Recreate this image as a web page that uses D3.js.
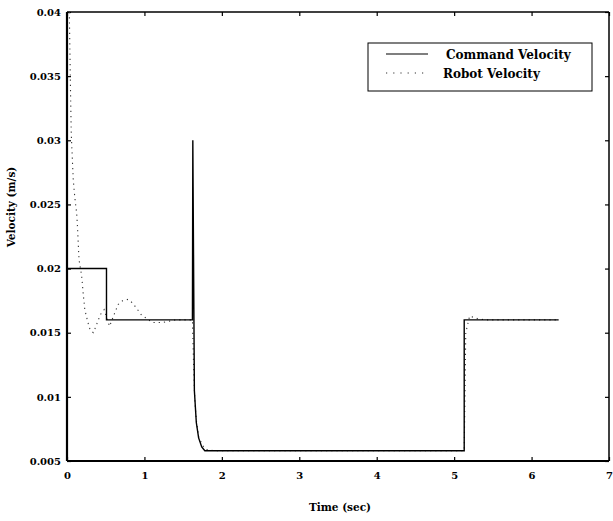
<!DOCTYPE html>
<html><head><meta charset="utf-8">
<script src="https://cdn.jsdelivr.net/npm/d3@7"></script>
<style>body{margin:0;background:#fff}svg{display:block}text{font-family:"DejaVu Serif","Liberation Serif",serif;font-weight:bold;fill:#000}</style>
</head><body><svg id="c" width="613" height="521"></svg>
<script>
const xTicks = [0,1,2,3,4,5,6,7];
const yTicks = [0.005,0.01,0.015,0.02,0.025,0.03,0.035,0.04];
const yTickLabels = ["0.005","0.01","0.015","0.02","0.025","0.03","0.035","0.04"];
const seriesNames = ["Command Velocity","Robot Velocity"];
const commandT = [0,0.51,0.51,1.62,1.625,1.645,1.67,1.70,1.74,1.78,5.13,5.13,6.35];
const commandV = [0.02,0.02,0.016,0.016,0.030,0.0105,0.0080,0.0068,0.0061,0.0058,0.0058,0.016,0.016];
const robotT = [0.03,0.045,0.055,0.08,0.10,0.125,0.135,0.155,0.19,0.21,0.23,0.27,0.30,0.34,0.38,0.43,0.48,0.51,0.55,0.62,0.66,0.72,0.79,0.85,0.96,1.10,1.24,1.40,1.62,1.635,1.65,1.67,1.70,1.75,1.80,1.9,5.13,5.15,5.2,5.3,5.4,6.35];
const robotV = [0.040,0.034,0.0305,0.027,0.0256,0.0243,0.0233,0.0207,0.0194,0.018,0.0168,0.0158,0.0152,0.015,0.0156,0.0164,0.0168,0.0162,0.0155,0.0166,0.0172,0.0175,0.0176,0.0173,0.0164,0.0158,0.0158,0.016,0.016,0.0125,0.0098,0.0082,0.0069,0.0062,0.0059,0.0058,0.0058,0.0150,0.0163,0.0161,0.016,0.016];

const W=613,H=521, m={l:67,r:4,t:12,b:60};
const svg=d3.select("#c");
const x=d3.scaleLinear().domain([0,7]).range([m.l,W-m.r]);
const y=d3.scaleLinear().domain([0.005,0.04]).range([H-m.b,m.t]);

svg.append("g").attr("transform",`translate(0,${H-m.b})`)
 .call(d3.axisBottom(x).tickValues(xTicks).tickSizeInner(-4).tickSizeOuter(0).tickPadding(11).tickFormat(d3.format("d")));
svg.append("g").attr("transform",`translate(${m.l},0)`)
 .call(d3.axisLeft(y).tickValues(yTicks).tickSizeInner(-4).tickSizeOuter(0).tickPadding(6).tickFormat((d,i)=>yTickLabels[i]));
svg.append("g").attr("transform",`translate(${W-m.r},0)`)
 .call(d3.axisRight(y).tickValues(yTicks).tickSizeInner(-4).tickSizeOuter(0).tickFormat(""));
svg.append("g").attr("transform",`translate(0,${m.t})`)
 .call(d3.axisTop(x).tickValues(xTicks).tickSizeInner(-4).tickSizeOuter(0).tickFormat(""));
svg.selectAll(".domain").remove();
svg.selectAll(".tick line").attr("stroke","#000").attr("stroke-width",1.2);
svg.selectAll(".tick text").style("font-size","10px").style("font-family",'"DejaVu Serif",serif').style("font-weight","bold");

svg.append("line").attr("x1",m.l).attr("x2",m.l).attr("y1",m.t).attr("y2",H-m.b).attr("stroke","#000").attr("stroke-width",2.2);
svg.append("line").attr("x1",m.l).attr("x2",W-m.r).attr("y1",H-m.b).attr("y2",H-m.b).attr("stroke","#000").attr("stroke-width",2.2);
svg.append("line").attr("x1",m.l).attr("x2",W-m.r).attr("y1",m.t).attr("y2",m.t).attr("stroke","#000").attr("stroke-width",1.5);
svg.append("line").attr("x1",W-m.r).attr("x2",W-m.r).attr("y1",m.t).attr("y2",H-m.b).attr("stroke","#000").attr("stroke-width",1.5);

const line=d3.line().x(d=>x(d[0])).y(d=>y(d[1]));
const cmd=commandT.map((t,i)=>[t,commandV[i]]);
const rob=robotT.map((t,i)=>[t,robotV[i]]);
svg.append("path").datum(rob).attr("d",line).attr("fill","none").attr("stroke","#333").attr("stroke-width",1.1).attr("stroke-dasharray","1.2,4");
svg.append("path").datum(cmd).attr("d",line).attr("fill","none").attr("stroke","#000").attr("stroke-width",1.4);

const lg=svg.append("g");
lg.append("rect").attr("x",368).attr("y",43).attr("width",224).attr("height",48).attr("fill","#fff").attr("stroke","#000").attr("stroke-width",1);
lg.append("line").attr("x1",386).attr("x2",428).attr("y1",54).attr("y2",54).attr("stroke","#000").attr("stroke-width",1.2);
lg.append("line").attr("x1",386).attr("x2",428).attr("y1",73).attr("y2",73).attr("stroke","#333").attr("stroke-width",1.1).attr("stroke-dasharray","1.2,6");
lg.append("text").attr("x",446).attr("y",58.5).style("font-size","12px").text(seriesNames[0]);
lg.append("text").attr("x",443).attr("y",77.5).style("font-size","12px").text(seriesNames[1]);

svg.append("text").attr("x",340).attr("y",511).attr("text-anchor","middle").style("font-size","10.5px").text("Time (sec)");
svg.append("text").attr("transform","translate(15,207) rotate(-90)").attr("text-anchor","middle").style("font-size","10.5px").text("Velocity (m/s)");
</script></body></html>
